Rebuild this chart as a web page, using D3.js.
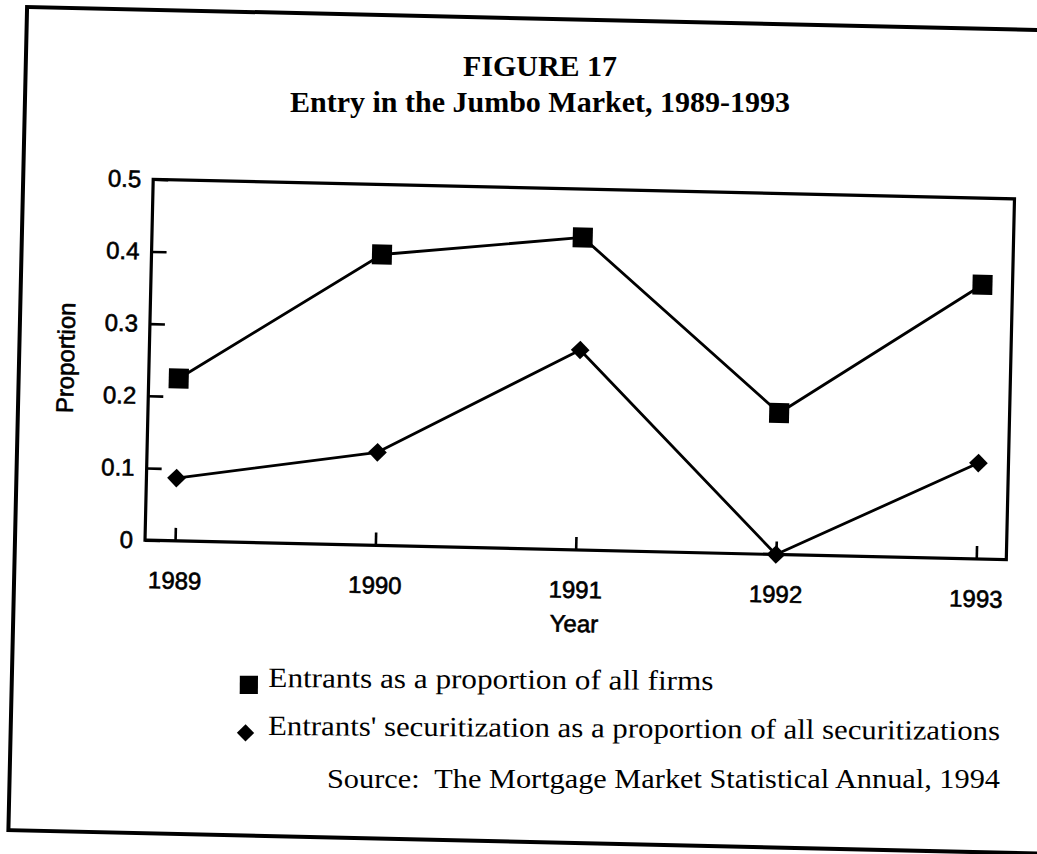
<!DOCTYPE html>
<html>
<head>
<meta charset="utf-8">
<script src="https://cdn.jsdelivr.net/npm/d3@7"></script>
<style>
    html, body { margin: 0; padding: 0; background: #fff; }
    svg { display: block; }
    .serif { font-family: "Liberation Serif", "Times New Roman", serif; white-space: pre; }
    .sans { font-family: "Liberation Sans", Arial, sans-serif; }
</style>
</head>
<body>
<svg id="chart" width="1037" height="854"></svg>
<script>
// values
const years = [1989, 1990, 1991, 1992, 1993];
const firmShare = [0.225, 0.403, 0.433, 0.196, 0.380];
const securitizationShare = [0.087, 0.129, 0.277, 0.0, 0.133];
const yTicks = [0, 0.1, 0.2, 0.3, 0.4, 0.5];

const titleLines = ["FIGURE 17", "Entry in the Jumbo Market, 1989-1993"];
const legendLabels = [
    "Entrants as a proportion of all firms",
    "Entrants' securitization as a proportion of all securitizations"
];
const sourceLabel = "Source:  The Mortgage Market Statistical Annual, 1994";

const svg = d3.select("#chart");

// plot box (before the scan tilt)
const plot = {left: 149, right: 1010.5, top: 189, bottom: 550};
const cx = (plot.left + plot.right) / 2, cy = (plot.top + plot.bottom) / 2;

const x = d3.scalePoint()
    .domain(years)
    .range([plot.left, plot.right])
    .padding(0.15);

const y = d3.scaleLinear()
    .domain([0, 0.5])
    .range([plot.bottom, plot.top]);

// the whole chart sits a bit crooked on the page
const tilted = svg.append("g")
    .attr("transform", `rotate(1.3, ${cx}, ${cy})`);

// outer frame, right side runs off the page
tilted.append("rect")
    .attr("x", 19).attr("y", 19.6)
    .attr("width", 1060).attr("height", 823.4)
    .attr("fill", "none")
    .attr("stroke", "#000")
    .attr("stroke-width", 4);

tilted.append("rect")
    .attr("x", plot.left).attr("y", plot.top)
    .attr("width", plot.right - plot.left)
    .attr("height", plot.bottom - plot.top)
    .attr("fill", "none")
    .attr("stroke", "#000")
    .attr("stroke-width", 3.2);

const yAxis = tilted.append("g")
    .attr("transform", `translate(${plot.left},0)`)
    .call(d3.axisLeft(y)
        .tickValues(yTicks)
        .tickSize(-15)
        .tickPadding(12)
        .tickFormat(d => d === 0 ? "0" : d3.format(".1f")(d)));

const xAxis = tilted.append("g")
    .attr("transform", `translate(0,${plot.bottom})`)
    .call(d3.axisBottom(x)
        .tickSize(-13)
        .tickPadding(31)
        .tickFormat(d3.format("d")));

[yAxis, xAxis].forEach(axis => {
    axis.select(".domain").remove();
    axis.selectAll(".tick line")
        .attr("stroke", "#000")
        .attr("stroke-width", 2.6);
    axis.selectAll(".tick text")
        .attr("class", "sans")
        .attr("font-size", 24)
        .attr("font-family", "Liberation Sans, Arial, sans-serif")
        .attr("fill", "#000")
        .attr("stroke", "#000")
        .attr("stroke-width", 0.6);
});

tilted.append("text")
    .attr("class", "sans")
    .attr("x", cx).attr("y", 632)
    .attr("text-anchor", "middle")
    .attr("font-size", 24)
    .attr("stroke", "#000").attr("stroke-width", 0.6)
    .text("Year");

tilted.append("text")
    .attr("class", "sans")
    .attr("transform", `translate(74,${cy}) rotate(-90)`)
    .attr("text-anchor", "middle")
    .attr("font-size", 24)
    .attr("stroke", "#000").attr("stroke-width", 0.6)
    .text("Proportion");

const series = [
    {values: firmShare, symbol: d3.symbol(d3.symbolSquare, 400), turn: 0},
    {values: securitizationShare, symbol: d3.symbol(d3.symbolSquare, 175), turn: 45}
];

const line = d3.line()
    .x((d, i) => x(years[i]))
    .y(d => y(d));

series.forEach(s => {
    tilted.append("path")
        .datum(s.values)
        .attr("d", line)
        .attr("fill", "none")
        .attr("stroke", "#000")
        .attr("stroke-width", 2.8)
        .attr("stroke-linejoin", "round");

    tilted.append("g")
        .selectAll("path")
        .data(s.values)
        .join("path")
        .attr("d", s.symbol)
        .attr("transform", (d, i) => `translate(${x(years[i])},${y(d)}) rotate(${s.turn})`)
        .attr("fill", "#000");
});

// title
svg.append("g")
    .selectAll("text")
    .data(titleLines)
    .join("text")
    .attr("class", "serif")
    .attr("x", 540)
    .attr("y", (d, i) => 76 + i * 36)
    .attr("text-anchor", "middle")
    .attr("font-size", 30)
    .attr("font-weight", "bold")
    .text(d => d);

// legend
const legend = svg.append("g")
    .attr("transform", "rotate(0.4, 268, 735)");

const legendSymbols = [d3.symbol(d3.symbolSquare, 330), d3.symbol(d3.symbolSquare, 150)];
const legendTurn = [0, 45];
const legendMarkX = [248.5, 245.5];
const legendBase = [687, 735];
const legendLength = [445, 732];

legend.selectAll("path")
    .data(legendLabels)
    .join("path")
    .attr("d", (d, i) => legendSymbols[i]())
    .attr("transform", (d, i) => `translate(${legendMarkX[i]},${legendBase[i] - 2}) rotate(${legendTurn[i]})`)
    .attr("fill", "#000");

legend.selectAll("text")
    .data(legendLabels)
    .join("text")
    .attr("class", "serif")
    .attr("x", 268)
    .attr("y", (d, i) => legendBase[i])
    .attr("font-size", 28)
    .attr("textLength", (d, i) => legendLength[i])
    .attr("lengthAdjust", "spacingAndGlyphs")
    .text(d => d);

svg.append("text")
    .attr("class", "serif")
    .attr("x", 327).attr("y", 788)
    .attr("font-size", 28)
    .attr("textLength", 673)
    .attr("lengthAdjust", "spacingAndGlyphs")
    .text(sourceLabel);
</script>
</body>
</html>
